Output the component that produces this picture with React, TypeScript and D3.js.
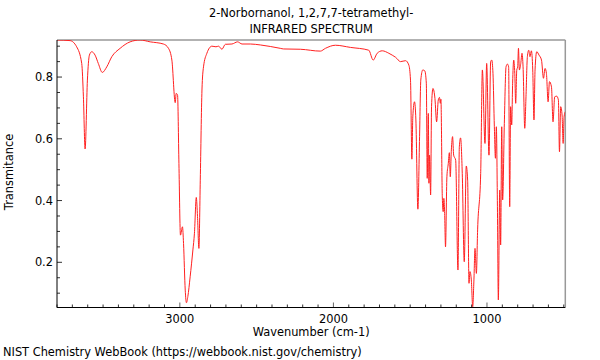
import React from "react";
import * as d3 from "d3";

const TITLE_LINES = ["2-Norbornanol, 1,2,7,7-tetramethyl-", "INFRARED SPECTRUM"];
const X_LABEL = "Wavenumber (cm-1)";
const Y_LABEL = "Transmitance";
const FOOTER = "NIST Chemistry WebBook (https://webbook.nist.gov/chemistry)";

const xMajorTicks = [3000, 2000, 1000];
const yMajorTicks = [0.2, 0.4, 0.6, 0.8];

const wavenumbers = [
  3800, 3715, 3672, 3639, 3628, 3617, 3602, 3589, 3574, 3552, 3531, 3505, 3476, 3443, 3389, 3324,
  3259, 3193, 3107, 3074, 3052, 3030, 3024, 3015, 3006, 2996, 2983, 2976, 2965, 2957, 2948, 2933,
  2915, 2905, 2893, 2885, 2876, 2867, 2856, 2846, 2824, 2791, 2765, 2748, 2726, 2704, 2661, 2624,
  2595, 2541, 2476, 2346, 2324, 2215, 2085, 2052, 1987, 1889, 1770, 1741, 1715, 1682, 1639, 1617,
  1595, 1563, 1530, 1509, 1498, 1489, 1483, 1472, 1463, 1450, 1439, 1431, 1418, 1405, 1395, 1389,
  1382, 1378, 1374, 1367, 1361, 1352, 1339, 1328, 1317, 1309, 1304, 1300, 1291, 1285, 1281, 1276,
  1270, 1261, 1252, 1245, 1239, 1232, 1224, 1217, 1204, 1189, 1180, 1172, 1161, 1148, 1135, 1126,
  1117, 1111, 1102, 1093, 1085, 1078, 1069, 1061, 1041, 1030, 1013, 1002, 987, 976, 969, 961,
  952, 945, 939, 932, 926, 917, 911, 904, 898, 887, 876, 867, 859, 852, 846, 839,
  833, 826, 819, 813, 806, 800, 795, 789, 780, 772, 765, 754, 746, 737, 728, 720,
  711, 702, 694, 687, 676, 661, 645, 632, 622, 613, 602, 593, 580, 570, 559, 546,
  535, 528, 520, 511, 504, 498, 490,
];

const transmittance = [
  0.92, 0.918, 0.898, 0.844, 0.736, 0.567, 0.79, 0.871, 0.882, 0.871, 0.844, 0.815, 0.833, 0.866, 0.893, 0.914,
  0.92, 0.914, 0.907, 0.893, 0.855, 0.717, 0.747, 0.742, 0.52, 0.288, 0.315, 0.261, 0.11, 0.069, 0.089, 0.153,
  0.24, 0.294, 0.41, 0.348, 0.245, 0.466, 0.758, 0.833, 0.877, 0.9, 0.898, 0.9, 0.89, 0.906, 0.907, 0.914,
  0.907, 0.907, 0.904, 0.893, 0.891, 0.89, 0.884, 0.893, 0.903, 0.896, 0.887, 0.855, 0.877, 0.885, 0.877, 0.871,
  0.864, 0.85, 0.853, 0.839, 0.79, 0.534, 0.671, 0.72, 0.661, 0.372, 0.607, 0.79, 0.823, 0.82, 0.78, 0.472,
  0.682, 0.456, 0.547, 0.418, 0.704, 0.763, 0.731, 0.655, 0.726, 0.734, 0.715, 0.728, 0.412, 0.364, 0.407, 0.364,
  0.25, 0.477, 0.52, 0.555, 0.477, 0.564, 0.607, 0.547, 0.531, 0.175, 0.574, 0.603, 0.488, 0.202, 0.512, 0.466,
  0.132, 0.17, 0.143, 0.056, 0.143, 0.245, 0.164, 0.305, 0.488, 0.823, 0.585, 0.844, 0.547, 0.85, 0.855, 0.812,
  0.639, 0.537, 0.639, 0.38, 0.078, 0.434, 0.256, 0.639, 0.402, 0.65, 0.833, 0.842, 0.833, 0.38, 0.704, 0.645,
  0.78, 0.855, 0.812, 0.715, 0.823, 0.833, 0.893, 0.823, 0.844, 0.877, 0.833, 0.634, 0.736, 0.866, 0.887, 0.866,
  0.885, 0.823, 0.661, 0.823, 0.882, 0.871, 0.855, 0.796, 0.828, 0.812, 0.72, 0.785, 0.768, 0.655, 0.736, 0.738,
  0.726, 0.558, 0.704, 0.677, 0.585, 0.671, 0.688,
];

const W = 600;
const H = 360;
const left = 57;
const right = 565.3;
const top = 40;
const bottom = 307.5;
const FONT = "DejaVu Sans, sans-serif";
const FS = 11.4;

export default function App() {
  const x = d3.scaleLinear().domain([3800, 490]).range([left, right]);
  const y = d3.scaleLinear().domain([0.0536, 0.92]).range([bottom, top]);

  const pts: [number, number][] = wavenumbers.map((w, i) => [w, transmittance[i]]);
  const line = d3
    .line<[number, number]>()
    .x((d) => x(d[0]))
    .y((d) => y(d[1]))
    .curve(d3.curveMonotoneX);

  const xMinor = d3.range(3800, 480, -100);
  const yMinor = d3.range(0.1, 0.92, 0.05).map((v) => Math.round(v * 100) / 100);
  const cx = (left + right) / 2;

  return (
    <svg
      width={W}
      height={H}
      style={{ position: "absolute", left: 0, top: 0, background: "#fff" }}
      fontFamily={FONT}
    >
      <defs>
        <clipPath id="plotclip">
          <rect x={left} y={top} width={right - left} height={bottom - top} />
        </clipPath>
      </defs>

      {TITLE_LINES.map((t, i) => (
        <text key={t} x={cx} y={17 + i * 15.5} textAnchor="middle" fontSize={FS} fill="#000">
          {t}
        </text>
      ))}

      {/* frame */}
      <line x1={left} x2={right} y1={top} y2={top} stroke="#999" strokeWidth={1.5} />
      <line x1={right} x2={right} y1={top} y2={bottom} stroke="#999" strokeWidth={1.5} />

      {/* spectrum */}
      <path
        d={line(pts) || ""}
        fill="none"
        stroke="#ff2020"
        strokeWidth={1}
        clipPath="url(#plotclip)"
      />

      {/* x ticks */}
      {xMinor.map((v) => (
        <line
          key={"xm" + v}
          x1={x(v)}
          x2={x(v)}
          y1={bottom}
          y2={bottom - (v % 1000 === 0 ? 5 : 3)}
          stroke={v % 1000 === 0 ? "#666" : "#333"}
          strokeWidth={1}
        />
      ))}
      {xMajorTicks.map((v) => (
        <text key={"xl" + v} x={x(v)} y={323} textAnchor="middle" fontSize={FS} fill="#000">
          {v}
        </text>
      ))}

      {/* y ticks */}
      {yMinor.map((v) => (
        <line
          key={"ym" + v}
          x1={left}
          x2={left + (yMajorTicks.includes(v) ? 5 : 3)}
          y1={y(v)}
          y2={y(v)}
          stroke="#333"
          strokeWidth={1}
        />
      ))}
      {yMajorTicks.map((v) => (
        <text key={"yl" + v} x={53} y={y(v) + 4} textAnchor="end" fontSize={FS} fill="#000">
          {v.toFixed(1)}
        </text>
      ))}

      {/* axes */}
      <line x1={left} x2={left} y1={top} y2={bottom} stroke="#000" strokeWidth={1} />
      <line x1={left} x2={right} y1={bottom} y2={bottom} stroke="#000" strokeWidth={1} />

      <text x={cx} y={336} textAnchor="middle" fontSize={FS} fill="#000">
        {X_LABEL}
      </text>
      <text
        transform={`translate(13, ${172}) rotate(-90)`}
        textAnchor="middle"
        fontSize={FS}
        fill="#000"
      >
        {Y_LABEL}
      </text>
      <text x={3} y={356} fontSize={FS} fill="#000">
        {FOOTER}
      </text>
    </svg>
  );
}
